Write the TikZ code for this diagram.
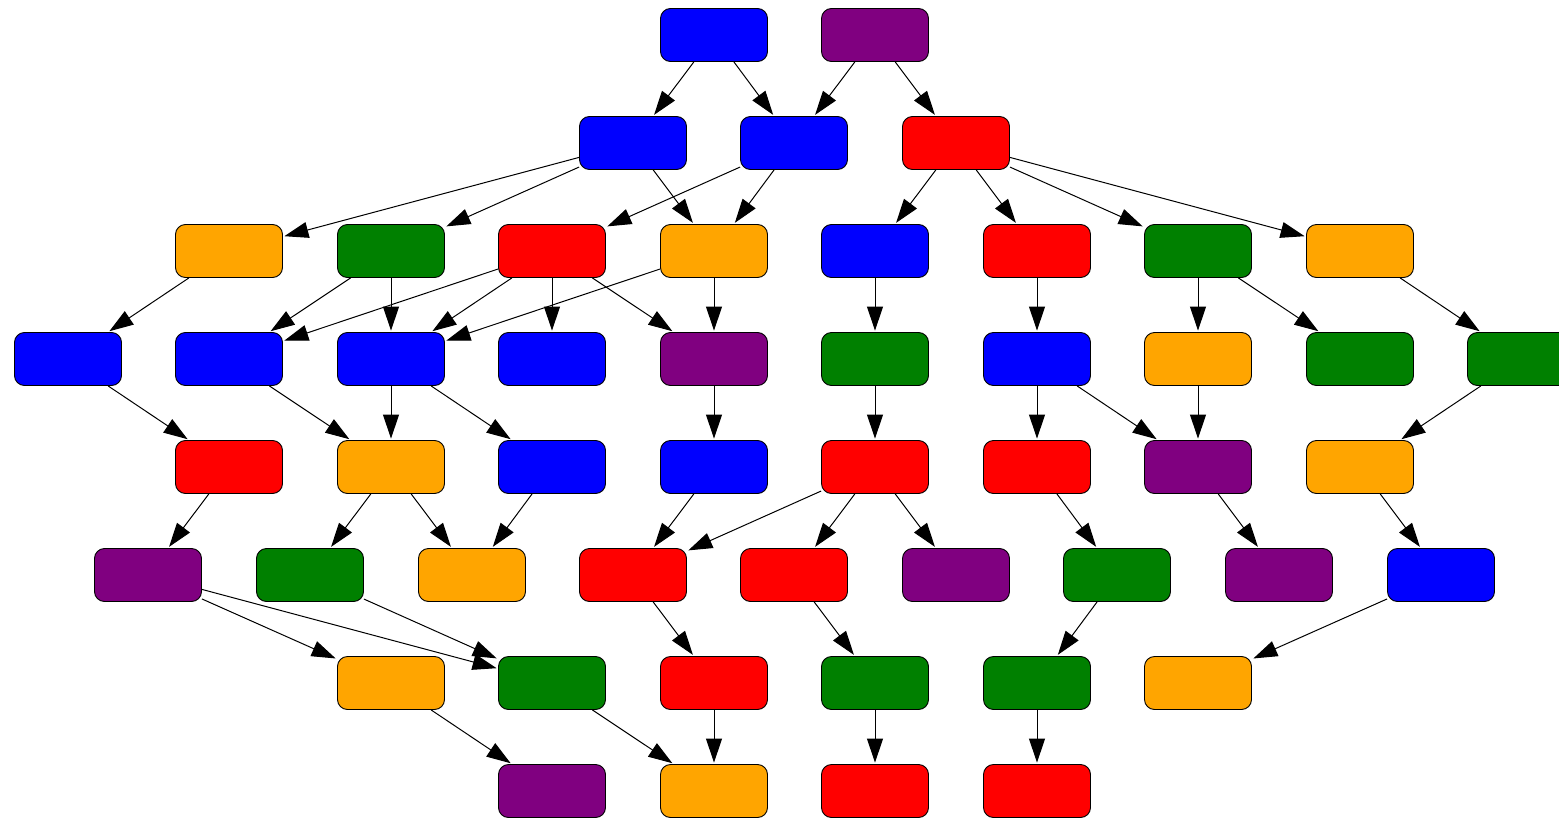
\documentclass[tikz,border=0pt]{standalone}
\usetikzlibrary{arrows.meta}
\definecolor{cblue}{HTML}{0000FF}
\definecolor{cpurple}{HTML}{800080}
\definecolor{cred}{HTML}{FF0000}
\definecolor{corange}{HTML}{FFA500}
\definecolor{cgreen}{HTML}{008000}
\tikzset{
  box/.style={rectangle, rounded corners=10pt, minimum width=107pt, minimum height=53pt, inner sep=0pt, draw=black, line width=0.9pt},
  bl/.style={box, fill=cblue},
  pu/.style={box, fill=cpurple},
  rd/.style={box, fill=cred},
  og/.style={box, fill=corange},
  gr/.style={box, fill=cgreen},
  edge/.style={draw=black, line width=1pt, shorten >=1.5pt, -{Triangle[length=24pt,width=16pt,fill=black]}},
}
\begin{document}
\begin{tikzpicture}[x=1pt,y=-1pt]
\useasboundingbox (0,0) rectangle (1559,819);
\clip (0,0) rectangle (1559,819);
% row 0
\node[bl] (a1) at (714,35) {};
\node[pu] (a2) at (875,35) {};
% row 1
\node[bl] (b1) at (633,143) {};
\node[bl] (b2) at (794,143) {};
\node[rd] (b3) at (956,143) {};
% row 2
\node[og] (c1) at (229,251) {};
\node[gr] (c2) at (391,251) {};
\node[rd] (c3) at (552,251) {};
\node[og] (c4) at (714,251) {};
\node[bl] (c5) at (875,251) {};
\node[rd] (c6) at (1037,251) {};
\node[gr] (c7) at (1198,251) {};
\node[og] (c8) at (1360,251) {};
% row 3
\node[bl] (d1) at (68,359) {};
\node[bl] (d2) at (229,359) {};
\node[bl] (d3) at (391,359) {};
\node[bl] (d4) at (552,359) {};
\node[pu] (d5) at (714,359) {};
\node[gr] (d6) at (875,359) {};
\node[bl] (d7) at (1037,359) {};
\node[og] (d8) at (1198,359) {};
\node[gr] (d9) at (1360,359) {};
\node[gr] (d10) at (1521,359) {};
% row 4
\node[rd] (e1) at (229,467) {};
\node[og] (e2) at (391,467) {};
\node[bl] (e3) at (552,467) {};
\node[bl] (e4) at (714,467) {};
\node[rd] (e5) at (875,467) {};
\node[rd] (e6) at (1037,467) {};
\node[pu] (e7) at (1198,467) {};
\node[og] (e8) at (1360,467) {};
% row 5
\node[pu] (f1) at (148,575) {};
\node[gr] (f2) at (310,575) {};
\node[og] (f3) at (472,575) {};
\node[rd] (f4) at (633,575) {};
\node[rd] (f5) at (794,575) {};
\node[pu] (f6) at (956,575) {};
\node[gr] (f7) at (1117,575) {};
\node[pu] (f8) at (1279,575) {};
\node[bl] (f9) at (1441,575) {};
% row 6
\node[og] (g1) at (391,683) {};
\node[gr] (g2) at (552,683) {};
\node[rd] (g3) at (714,683) {};
\node[gr] (g4) at (875,683) {};
\node[gr] (g5) at (1037,683) {};
\node[og] (g6) at (1198,683) {};
% row 7
\node[pu] (h1) at (552,791) {};
\node[og] (h2) at (714,791) {};
\node[rd] (h3) at (875,791) {};
\node[rd] (h4) at (1037,791) {};
% edges
\foreach \s/\t in {a1/b1,a1/b2,a2/b2,a2/b3,
  b1/c1,b1/c2,b1/c4,b2/c3,b2/c4,b3/c5,b3/c6,b3/c7,b3/c8,
  c1/d1,c2/d2,c2/d3,c3/d2,c3/d3,c3/d4,c3/d5,c4/d3,c4/d5,c5/d6,c6/d7,c7/d8,c7/d9,c8/d10,
  d1/e1,d2/e2,d3/e2,d3/e3,d5/e4,d6/e5,d7/e6,d7/e7,d8/e7,d10/e8,
  e1/f1,e2/f2,e2/f3,e3/f3,e4/f4,e5/f4,e5/f5,e5/f6,e6/f7,e7/f8,e8/f9,
  f1/g1,f1/g2,f2/g2,f4/g3,f5/g4,f7/g5,f9/g6,
  g1/h1,g2/h2,g3/h2,g4/h3,g5/h4}
  \draw[edge] (\s) -- (\t);
\end{tikzpicture}
\end{document}
